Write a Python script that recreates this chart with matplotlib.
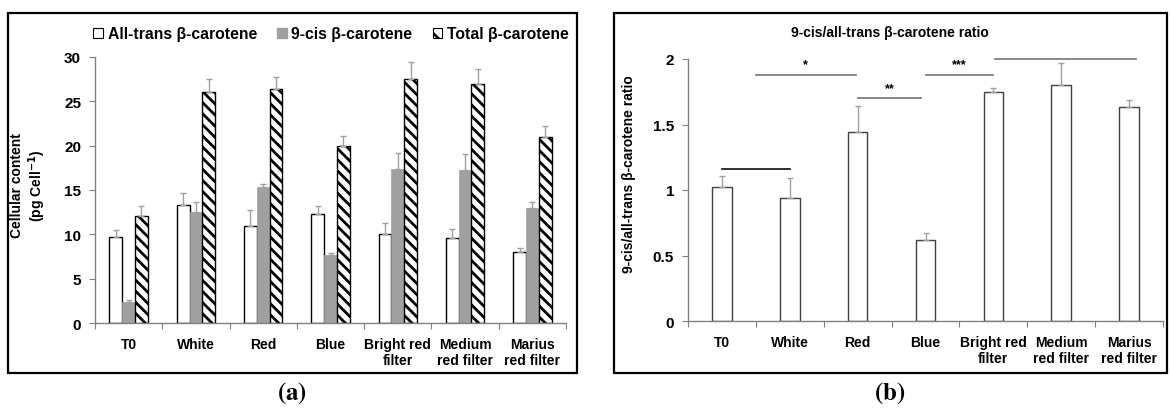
import numpy as np
import matplotlib.pyplot as plt
from matplotlib.patches import Rectangle, Patch

plt.rcParams['font.family'] = ['Liberation Sans', 'DejaVu Sans']
plt.rcParams['font.weight'] = 'bold'
plt.rcParams['hatch.linewidth'] = 2.0

categories = ['T0', 'White', 'Red', 'Blue', 'Bright red\nfilter',
              'Medium\nred filter', 'Marius\nred filter']

# panel (a) - cellular content, pg per cell
all_trans = [9.7, 13.3, 10.9, 12.3, 10.0, 9.6, 8.0]
all_trans_err = [0.8, 1.4, 1.8, 0.9, 1.3, 1.0, 0.45]
cis9 = [2.4, 12.5, 15.3, 7.7, 17.4, 17.3, 13.0]
cis9_err = [0.2, 1.2, 0.4, 0.2, 1.8, 1.8, 0.6]
total = [12.1, 26.0, 26.4, 20.0, 27.5, 26.9, 21.0]
total_err = [1.1, 1.5, 1.4, 1.1, 1.9, 1.7, 1.2]

# panel (b) - 9-cis / all-trans ratio
ratio = [1.02, 0.94, 1.44, 0.62, 1.75, 1.80, 1.63]
ratio_err = [0.09, 0.15, 0.20, 0.05, 0.03, 0.17, 0.06]

# significance brackets: (x start, x end, y, label, colour)
sig_lines = [(0.0, 1.0, 1.16, '', '#202020'),
             (0.5, 1.97, 1.88, '*', '#808080'),
             (2.0, 2.94, 1.70, '**', '#808080'),
             (3.0, 4.0, 1.88, '***', '#808080'),
             (4.03, 6.1, 2.0, '', '#808080')]

W, H = 1170, 410
fig = plt.figure(figsize=(W / 100, H / 100), dpi=100)

def px(x0, y0, x1, y1):
    return [x0 / W, 1 - y1 / H, (x1 - x0) / W, (y1 - y0) / H]

# frames around each panel
for x0, x1 in [(8, 577), (614, 1167)]:
    fig.patches.append(Rectangle((x0 / W, 1 - 374 / H), (x1 - x0) / W, 360 / H,
                                 transform=fig.transFigure, fill=False,
                                 edgecolor='black', linewidth=1.6))

axis_col = '#808080'
err_col = '#a0a0a0'
x = np.arange(len(categories))

def style_axis(ax, ylim, yticks, fs):
    ax.set_xlim(-0.5, len(categories) - 0.5)
    ax.set_ylim(*ylim)
    ax.set_yticks(yticks)
    ax.set_yticklabels([('%g' % t) for t in yticks], fontsize=fs, fontweight='bold')
    ax.set_xticks(np.arange(-0.5, len(categories)))
    ax.set_xticklabels([])
    ax.set_xticks(x, minor=True)
    ax.set_xticklabels(categories, minor=True, fontsize=10, fontweight='bold')
    ax.tick_params(axis='x', which='minor', length=0, pad=10)
    ax.tick_params(axis='x', which='major', length=4, color=axis_col, direction='out')
    ax.tick_params(axis='y', length=4, color=axis_col, direction='out', pad=6)
    for s in ['top', 'right']:
        ax.spines[s].set_visible(False)
    for s in ['left', 'bottom']:
        ax.spines[s].set_color(axis_col)
        ax.spines[s].set_linewidth(1.0)

# ---- panel (a)
ax1 = fig.add_axes(px(95, 58, 566, 324))
bw = 0.19
zeros = np.zeros(len(x))
ekw = dict(ecolor=err_col, elinewidth=1.0, capsize=2, capthick=1.0)
ax1.bar(x - bw, all_trans, bw, color='white', edgecolor='black', linewidth=1.0,
        yerr=[zeros, all_trans_err], error_kw=ekw)
ax1.bar(x, cis9, bw, color='#a0a0a0', edgecolor='#a0a0a0', linewidth=0.5,
        yerr=[zeros, cis9_err], error_kw=ekw)
ax1.bar(x + bw, total, bw, color='white', edgecolor='black', linewidth=1.0,
        hatch='\\\\\\', yerr=[zeros, total_err], error_kw=ekw)
style_axis(ax1, (0, 30), [0, 5, 10, 15, 20, 25, 30], 11)
ax1.set_ylabel('Cellular content\n(pg Cell$^{\\mathbf{-1}}$)', fontsize=10,
               fontweight='bold', linespacing=1.15)
ax1.yaxis.set_label_coords(-0.100, 0.52)

handles = [Patch(facecolor='white', edgecolor='black', linewidth=0.8),
           Patch(facecolor='#a0a0a0', edgecolor='#a0a0a0'),
           Patch(facecolor='white', edgecolor='black', hatch='\\\\', linewidth=0.8)]
leg = fig.legend(handles, ['All-trans β-carotene', '9-cis β-carotene', 'Total β-carotene'],
                 loc='center', bbox_to_anchor=(331 / W, 1 - 35 / H), ncol=3,
                 frameon=False, handlelength=0.6, handleheight=0.6,
                 handletextpad=0.3, columnspacing=1.3, prop={'weight': 'bold', 'size': 11.3})

# ---- panel (b)
ax2 = fig.add_axes(px(688, 60, 1163, 322))
ax2.bar(x, ratio, 0.29, color='white', edgecolor='#404040', linewidth=1.0,
        yerr=[zeros, ratio_err], error_kw=ekw)
style_axis(ax2, (0, 2), [0, 0.5, 1, 1.5, 2], 11)
ax2.set_ylabel('9-cis/all-trans β-carotene ratio', fontsize=10, fontweight='bold')
ax2.yaxis.set_label_coords(-0.11, 0.565)
for xs, xe, y, lab, col in sig_lines:
    ax2.plot([xs, xe], [y, y], color=col, linewidth=1.3, clip_on=False)
    if lab:
        ax2.text((xs + xe) / 2, y + 0.035, lab, ha='center', va='bottom',
                 fontsize=9, fontweight='bold')
fig.text(890 / W, 1 - 33 / H, '9-cis/all-trans β-carotene ratio', ha='center',
         va='center', fontsize=10, fontweight='bold')

# panel letters
fig.text(292 / W, 1 - 393 / H, r'$(\mathbf{a})$', ha='center', va='center',
         fontsize=18, math_fontfamily='stix')
fig.text(890 / W, 1 - 393 / H, r'$(\mathbf{b})$', ha='center', va='center',
         fontsize=18, math_fontfamily='stix')

fig.savefig('out.png', dpi=100)
